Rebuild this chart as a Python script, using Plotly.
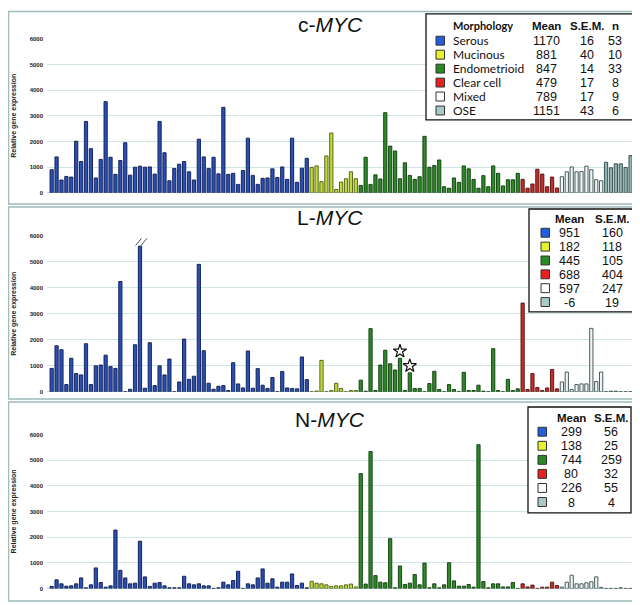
import plotly.graph_objects as go

# the page puts the figure 8px in from the top-left corner
OFF = 8
W, H = 640 - OFF, 605 - OFF

# morphology groups (order of bars left -> right)
groups = ["Serous", "Mucinous", "Endometrioid", "Clear cell", "Mixed", "OSE"]
group_n = [53, 10, 33, 8, 9, 6]

# relative gene expression per sample
cmyc = [900, 1400, 500, 640, 615, 2010, 1220, 2780, 1720, 580,
        1300, 3550, 1385, 720, 1260, 1950, 690, 1000, 1040, 1000,
        1010, 730, 2780, 1560, 470, 950, 1115, 1220, 820, 500,
        2090, 1400, 950, 1385, 740, 3330, 720, 760, 330, 870,
        2130, 680, 330, 565, 580, 935, 600, 1010, 525, 2130,
        410, 960, 1345,
        990, 1050, 435, 1435, 2330, 130, 420, 550, 820, 550,
        290, 1385, 330, 700, 540, 3120, 1820, 1630, 550, 1170,
        680, 525, 630, 2200, 1000, 1060, 1280, 240, 180, 580,
        410, 1050, 935, 525, 180, 670, 240, 1050, 760, 270,
        510, 510, 760,
        525, 180, 345, 920, 730, 240, 615, 190,
        630, 820, 1010, 820, 830, 1040, 900, 510, 470,
        1190, 975, 1130, 1130, 990, 1450]

lmyc = [900, 1770, 1620, 280, 1290, 700, 650, 1850, 280, 1000,
        1030, 1410, 970, 900, 4240, 0, 100, 1810, 12434, 140,
        1890, 240, 1000, 650, 1260, 0, 380, 2030, 480, 600,
        4900, 1580, 330, 100, 215, 240, 50, 1120, 305, 150,
        1570, 140, 890, 255, 130, 550, 0, 780, 150, 130,
        115, 1340, 470,
        0, 30, 1210, 0, 50, 330, 130, 0, 50, 50,
        450, 25, 2430, 50, 1030, 1600, 1080, 840, 1290, 50,
        730, 130, 130, 0, 320, 790, 90, 0, 280, 90,
        0, 750, 50, 50, 255, 25, 0, 1660, 50, 0,
        480, 50, 115,
        3410, 90, 700, 165, 50, 150, 860, 115,
        380, 760, 90, 280, 305, 305, 2440, 395, 760,
        0, 25, 25, 0, 0, 0]

nmyc = [80, 335, 180, 90, 100, 180, 410, 25, 140, 800,
        230, 50, 100, 2275, 705, 410, 180, 205, 1840, 450,
        80, 205, 230, 100, 25, 25, 25, 475, 180, 140,
        180, 100, 100, 0, 25, 245, 140, 310, 670, 0,
        180, 140, 410, 760, 205, 375, 50, 245, 245, 565,
        115, 205, 25,
        280, 205, 180, 140, 80, 100, 100, 140, 170, 60,
        4475, 170, 5330, 500, 245, 220, 1940, 25, 875, 155,
        205, 540, 140, 990, 25, 180, 25, 140, 1000, 295,
        90, 90, 155, 50, 5670, 270, 25, 180, 180, 60,
        60, 230, 0,
        180, 60, 130, 0, 50, 50, 245, 115,
        50, 245, 515, 180, 180, 220, 260, 450, 40,
        0, 0, 0, 25, 0, 0]

# summary tables
c_mean = [1170, 881, 847, 479, 789, 1151]
c_sem = [16, 40, 14, 17, 17, 43]
c_n = [53, 10, 33, 8, 9, 6]
l_mean = [951, 182, 445, 688, 597, -6]
l_sem = [160, 118, 105, 404, 247, 19]
n_mean = [299, 138, 744, 80, 226, 8]
n_sem = [56, 25, 259, 32, 55, 4]

starred = [71, 73]      # samples marked with a star in L-MYC
cap = 5600              # drawn height of the off-scale bar

bar_fill = ["#2a50b8", "#c4da3a", "#2e8a28", "#c42e28", "#eef7f7", "#8fb3b0"]
bar_edge = ["#0c1a4a", "#4a5a10", "#0f3a0c", "#501010", "#3a4a4a", "#2e4646"]
key_fill = ["#1f5fe0", "#e6f22a", "#2a8a22", "#e82020", "#ffffff", "#a9c9c9"]

fills, edges = [], []
for g, n in enumerate(group_n):
    fills += [bar_fill[g]] * n
    edges += [bar_edge[g]] * n
idx = list(range(len(cmyc)))


def py(y):
    return 1 - (y - OFF) / H


def px(x):
    return (x - OFF) / W


# plot areas in page pixels (top, bottom)
panels = [
    dict(name="c-", vals=cmyc, top=36, bot=191.7, title_y=22),
    dict(name="L-", vals=lmyc, top=235, bot=392.7, title_y=217),
    dict(name="N-", vals=nmyc, top=435.7, bot=591.3, title_y=421),
]

fig = go.Figure()
layout = dict(width=W, height=H, margin=dict(l=0, r=0, t=0, b=0),
              paper_bgcolor="white", plot_bgcolor="white", showlegend=False,
              font=dict(family="Liberation Sans, Arial", color="#111"),
              bargap=0.34)
annotations, shapes = [], []


def label(text, x, y, size, xanchor="center", **kw):
    font = dict(size=size)
    font.update(kw.pop("font", {}))
    annotations.append(dict(text=text, x=px(x), y=py(y), xref="paper", yref="paper",
                            xanchor=xanchor, yanchor="middle", showarrow=False,
                            font=font, **kw))


for i, p in enumerate(panels):
    s = "" if i == 0 else str(i + 1)
    shown = [min(v, cap) for v in p["vals"]]
    fig.add_trace(go.Bar(x=idx, y=shown, xaxis="x" + s, yaxis="y" + s,
                         marker=dict(color=fills, line=dict(color=edges, width=0.9))))
    layout["xaxis" + s] = dict(domain=[px(47), px(634)], range=[-0.95, 118.7],
                               visible=False, anchor="y" + s)
    layout["yaxis" + s] = dict(domain=[py(p["bot"]), py(p["top"])], range=[0, 6000],
                               anchor="x" + s, tickvals=list(range(0, 6001, 1000)),
                               tickfont=dict(size=6, weight="bold", color="#222"),
                               gridcolor="#cfe5e5", gridwidth=1, zeroline=True,
                               zerolinecolor="#bcd6d6", zerolinewidth=1, ticks="",
                               ticklabelstandoff=3)
    label(p["name"] + "<i>MYC</i>", 330, p["title_y"], 21)
    label("<b>Relative gene expression</b>", 14, (p["top"] + p["bot"]) / 2, 7,
          textangle=-90, font=dict(color="#222"))

# off-scale bar in L-MYC
big = max(range(len(lmyc)), key=lambda k: lmyc[k])
annotations.append(dict(text="<b>%d</b>" % lmyc[big], x=big, y=6230, xref="x2", yref="y2",
                        showarrow=False, font=dict(size=7.5, color="#222")))
for dx in (-0.9, 0.2):
    shapes.append(dict(type="line", xref="x2", yref="y2", x0=big + dx, y0=5620,
                       x1=big + dx + 1.2, y1=5900, line=dict(color="#556", width=1)))

# stars
fig.add_trace(go.Scatter(x=starred, y=[lmyc[k] + 270 for k in starred], xaxis="x2", yaxis="y2",
                         mode="markers", marker=dict(symbol="star-open", size=10,
                                                     color="#111", line=dict(width=1.2))))

# panel frames
for y0, y1 in [(OFF + 0.5, 203), (206, 400), (403, 604)]:
    shapes.append(dict(type="rect", xref="paper", yref="paper", x0=px(OFF + 0.5), x1=px(638),
                       y0=py(y1), y1=py(y0), line=dict(color="#9fbcbc", width=1.5)))


def table(box, head_y, row_y, step, sq_x, cols, names=None, name_x=None, fs=12.5):
    shapes.append(dict(type="rect", xref="paper", yref="paper", x0=px(box[0]), x1=px(box[2]),
                       y0=py(box[3]), y1=py(box[1]), line=dict(color="#111", width=1.3),
                       fillcolor="white", layer="above"))
    hgt = step - 1
    if names:
        label("<b>Morphology</b>", name_x, head_y, 11, xanchor="left", height=hgt,
              font=dict(family="Lato, Liberation Sans"))
    for head, cx, vals in cols:
        label(head, cx, head_y, fs - 1, height=hgt)
        for r, v in enumerate(vals):
            label(str(v), cx, row_y + r * step, fs, height=hgt)
    for r in range(len(groups)):
        yc = row_y + r * step
        shapes.append(dict(type="rect", xref="paper", yref="paper", x0=px(sq_x), x1=px(sq_x + 8.5),
                           y0=py(yc + 4.5), y1=py(yc - 4.5), fillcolor=key_fill[r],
                           line=dict(color="#333", width=1), layer="above"))
        if names:
            label(names[r], name_x, yc, 12, xanchor="left", height=hgt,
                  font=dict(family="Lato, Liberation Sans"))


table((426, 11, 633, 118), 23, 38, 14.1, 436,
      [("<b>Mean</b>", 546, c_mean), ("<b>S.E.M.</b>", 587, c_sem), ("<b>n</b>", 615, c_n)],
      names=groups, name_x=451, fs=12.5)
table((529, 208, 633, 312), 218, 232, 14, 541,
      [("<b>Mean</b>", 569, l_mean), ("<b>S.E.M.</b>", 612, l_sem)], fs=12.5)
table((528, 408, 631, 515), 419, 433, 14.2, 538,
      [("<b>Mean</b>", 571, n_mean), ("<b>S.E.M.</b>", 611, n_sem)], fs=12.5)

layout["annotations"] = annotations
layout["shapes"] = shapes
fig.update_layout(**layout)
fig.write_html("out.html")
